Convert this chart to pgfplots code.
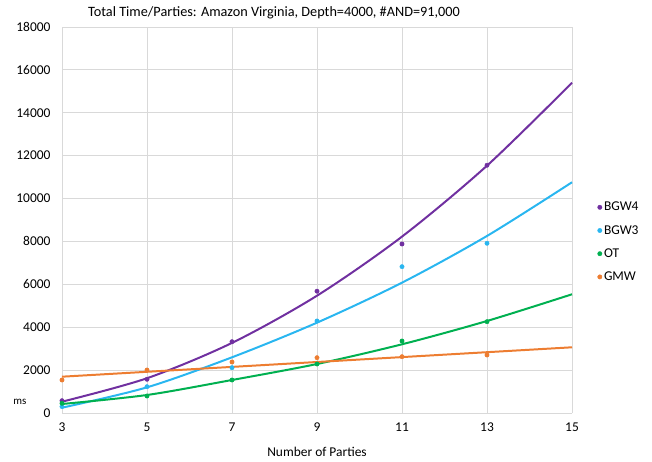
\documentclass[border=0pt]{standalone}
\usepackage{pgfplots}
\pgfplotsset{compat=1.18}
\usepackage{fontspec}
\setmainfont{Carlito}
\definecolor{cBGWfour}{RGB}{112,48,160}
\definecolor{cBGWthree}{RGB}{41,182,240}
\definecolor{cOT}{RGB}{0,176,80}
\definecolor{cGMW}{RGB}{237,125,49}
\definecolor{gridc}{RGB}{217,217,217}
\begin{document}
\begin{tikzpicture}
\begin{axis}[
  at={(0,0)}, anchor=south west,
  scale only axis, width=510bp, height=386bp,
  xmin=3, xmax=15, ymin=0, ymax=18000,
  xtick={3,5,7,9,11,13,15},
  ytick={0,2000,4000,6000,8000,10000,12000,14000,16000,18000},
  scaled y ticks=false,
  /pgf/number format/assume math mode=true,
  yticklabel style={/pgf/number format/fixed, /pgf/number format/1000 sep={}, xshift=-8bp},
  tick label style={font=\fontsize{13.5}{15}\selectfont, text=black},
  xticklabel style={yshift=-6bp},
  major tick length=0pt,
  grid=major, grid style={gridc, line width=0.9pt},
  axis x line*=bottom, axis y line*=left,
  x axis line style={gridc, line width=0.9pt, -},
  y axis line style={draw=none, -},
  title={Total Time/Parties: Amazon Virginia, Depth=4000, \#AND=91,000},
  title style={font=\fontsize{14.3}{16}\selectfont, at={(rel axis cs:0.4157,1)}, anchor=center, yshift=8bp},
  xlabel={Number of Parties},
  xlabel style={font=\fontsize{13.5}{15}\selectfont, yshift=-9bp},
  legend style={at={(rel axis cs:1.044,0.557)}, anchor=north west, draw=none, fill=none,
    font=\fontsize{13.5}{15}\selectfont, row sep=9bp},
  legend cell align=left,
  clip=false,
]
% trend curves
\addplot[cBGWfour, line width=2pt, smooth, forget plot] coordinates {
 (3,527)(5,1621)(7,3269)(9,5471)(11,8226)(13,11534)(15,15400)};
\addplot[cBGWthree, line width=2pt, smooth, forget plot] coordinates {
 (3,247)(5,1197)(7,2597)(9,4213)(11,6078)(13,8256)(15,10760)};
\addplot[cOT, line width=2pt, smooth, forget plot] coordinates {
 (3,420)(5,840)(7,1539)(9,2285)(11,3204)(13,4291)(15,5536)};
\addplot[cGMW, line width=2pt, forget plot] coordinates {
 (3,1693)(15,3064)};
% data points
\addplot[only marks, mark=*, mark size=2.2pt, color=cBGWfour] coordinates {
 (3,574)(5,1572)(7,3325)(9,5680)(11,7882)(13,11553)};
\addlegendentry{BGW4}
\addplot[only marks, mark=*, mark size=2.2pt, color=cBGWthree] coordinates {
 (3,300)(5,1227)(7,2113)(9,4291)(11,6824)(13,7915)};
\addlegendentry{BGW3}
\addplot[only marks, mark=*, mark size=2.2pt, color=cOT] coordinates {
 (3,452)(5,793)(7,1539)(9,2285)(11,3358)(13,4258)};
\addlegendentry{OT}
\addplot[only marks, mark=*, mark size=2.2pt, color=cGMW] coordinates {
 (3,1539)(5,2005)(7,2379)(9,2580)(11,2626)(13,2705)};
\addlegendentry{GMW}
\node[anchor=center, font=\fontsize{11}{13}\selectfont] at ([xshift=-42bp]rel axis cs:0,0.028) {ms};
\end{axis}
\pgfresetboundingbox
\path (-62bp,-49bp) rectangle (590bp,413bp);
\end{tikzpicture}
\end{document}
